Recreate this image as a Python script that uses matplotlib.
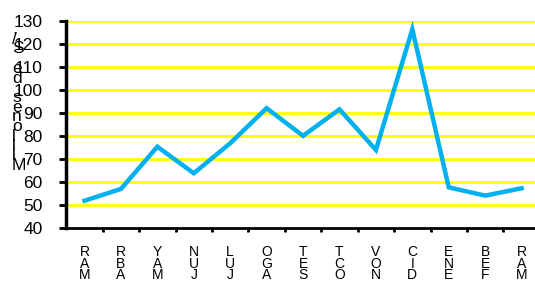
import matplotlib
matplotlib.use("Agg")
import matplotlib.pyplot as plt

plt.rcParams['font.family'] = ['Liberation Sans', 'DejaVu Sans']

months = ["MAR", "ABR", "MAY", "JUN", "JUL", "AGO", "SET", "OCT", "NOV", "DIC", "ENE", "FEB", "MAR"]
values = [52.0, 57.1, 75.4, 63.9, 76.9, 92.1, 80.1, 91.6, 74.0, 126.3, 57.8, 54.2, 57.4]
y_ticks = [40, 50, 60, 70, 80, 90, 100, 110, 120, 130]
y_title = "Millones de S/."


def stack(txt):
    # letters drawn one under the other, last letter on top
    return "\n".join(reversed(txt))


fig = plt.figure(figsize=(5.35, 2.84), dpi=100)
ax = fig.add_axes([66.3 / 535, 1 - 228.4 / 284, 473.5 / 535, (228.4 - 20.7) / 284])

x = list(range(len(values)))
ax.plot(x, values, color="#00B0F0", lw=3.2, solid_joinstyle="miter", zorder=3, clip_on=False)

for t in y_ticks[1:]:
    ax.axhline(t, color="#FFFF00", lw=2, zorder=1)

ax.set_xlim(-0.5, len(values) - 0.5)
ax.set_ylim(40, 130)
ax.set_yticks(y_ticks)
ax.tick_params(axis="y", direction="out", length=5, width=2, pad=12, labelsize=12.5)

ax.set_xticks(x)
ax.set_xticklabels([stack(m) for m in months], fontsize=10, linespacing=0.78, va="top")
ax.tick_params(axis="x", which="major", length=0, pad=12)
ax.set_xticks([i + 0.5 for i in range(len(values) - 1)], minor=True)
ax.tick_params(axis="x", which="minor", direction="out", length=3, width=2)

for s in ["top", "right"]:
    ax.spines[s].set_visible(False)
ax.spines["left"].set_linewidth(2.5)
ax.spines["bottom"].set_linewidth(2)

fig.text(12 / 535, 1 - 22 / 284, stack(y_title), fontsize=12.5, linespacing=0.56,
         ha="left", va="top")

fig.savefig("out.png", dpi=100)
